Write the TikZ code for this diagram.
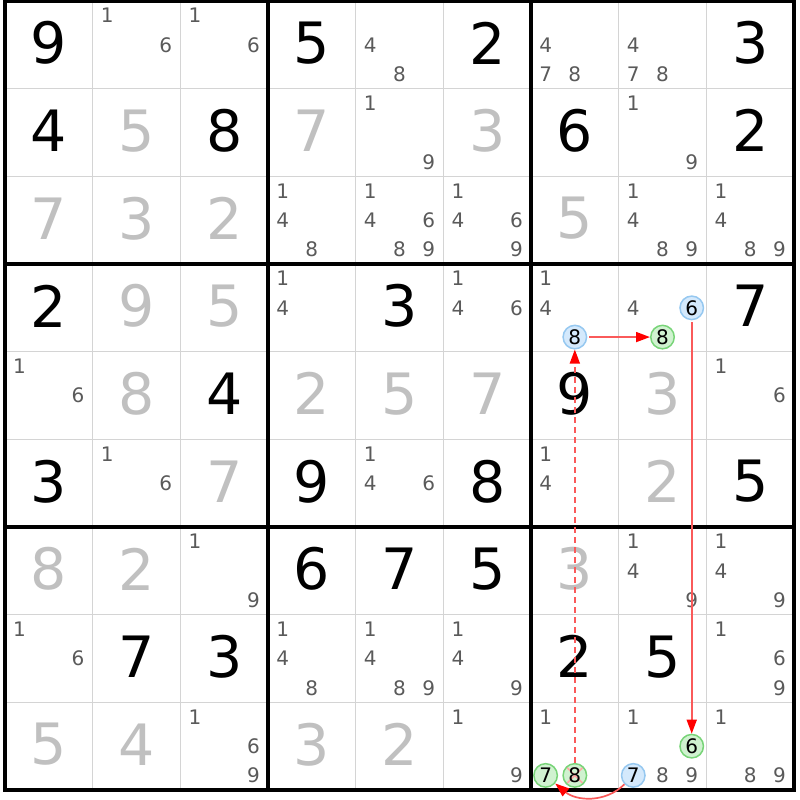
\documentclass[tikz,border=0pt]{standalone}
\usepackage{fontspec}
\setmainfont{DejaVu Sans}
\usetikzlibrary{arrows.meta}
\definecolor{candc}{RGB}{90,90,90}
\definecolor{givc}{RGB}{192,192,192}
\definecolor{thinc}{RGB}{212,212,212}
\definecolor{bluef}{RGB}{212,233,252}
\definecolor{blued}{RGB}{150,200,240}
\definecolor{greenf}{RGB}{208,242,208}
\definecolor{greend}{RGB}{120,212,120}
\definecolor{linkc}{RGB}{250,90,90}
\begin{document}
\begin{tikzpicture}[x=1pt,y=-1pt,
  big/.style={inner sep=0pt, font=\fontsize{57}{57}\selectfont},
  cand/.style={inner sep=0pt, font=\fontsize{20}{20}\selectfont, text=candc},
  cbase/.style={circle, line width=1.5pt, minimum size=23.5pt, inner sep=0pt, font=\fontsize{20}{20}\selectfont, text=black},
  cblue/.style={cbase, draw=blued, fill=bluef},
  cgreen/.style={cbase, draw=greend, fill=greenf},
  thinline/.style={draw=thinc, line width=1.6pt},
  thickline/.style={draw=black, line width=3.2pt},
  link/.style={draw=linkc, line width=1.7pt, -{Triangle[length=14pt,width=10pt,color=red]}}
]
\useasboundingbox (0,0) rectangle (800,800);
% thin grid
\foreach \i in {0,...,9} {
  \draw[thinline] ({5+\i*87.667},1) -- ({5+\i*87.667},790);
  \draw[thinline] (5,{1+\i*87.667}) -- (794,{1+\i*87.667});
}
% thick grid
\foreach \i in {3,6} {
  \draw[thickline] ({5+\i*87.667},1) -- ({5+\i*87.667},790);
  \draw[thickline] (5,{1+\i*87.667}) -- (794,{1+\i*87.667});
}
\draw[thickline] (5,1) rectangle (794,790);
% big digits
\foreach \r/\c/\d/\t in {
 0/0/9/black, 0/3/5/black, 0/5/2/black, 0/8/3/black,
 1/0/4/black, 1/1/5/givc, 1/2/8/black, 1/3/7/givc, 1/5/3/givc, 1/6/6/black, 1/8/2/black,
 2/0/7/givc, 2/1/3/givc, 2/2/2/givc, 2/6/5/givc,
 3/0/2/black, 3/1/9/givc, 3/2/5/givc, 3/4/3/black, 3/8/7/black,
 4/1/8/givc, 4/2/4/black, 4/3/2/givc, 4/4/5/givc, 4/5/7/givc, 4/6/9/black, 4/7/3/givc,
 5/0/3/black, 5/2/7/givc, 5/3/9/black, 5/5/8/black, 5/7/2/givc, 5/8/5/black,
 6/0/8/givc, 6/1/2/givc, 6/3/6/black, 6/4/7/black, 6/5/5/black, 6/6/3/givc,
 7/1/7/black, 7/2/3/black, 7/6/2/black, 7/7/5/black,
 8/0/5/givc, 8/1/4/givc, 8/3/3/givc, 8/4/2/givc} {
  \node[big, text=\t] (g\r\c) at ({5+\c*87.667+43.833},{1+\r*87.667+42}) {\d};
}
% candidates
\foreach \r/\c/\L in {
 0/1/{1,6}, 0/2/{1,6}, 0/4/{4,8}, 0/6/{4,7,8}, 0/7/{4,7,8},
 1/4/{1,9}, 1/7/{1,9},
 2/3/{1,4,8}, 2/4/{1,4,6,8,9}, 2/5/{1,4,6,9}, 2/7/{1,4,8,9}, 2/8/{1,4,8,9},
 3/3/{1,4}, 3/5/{1,4,6}, 3/6/{1,4}, 3/7/{4},
 4/0/{1,6}, 4/8/{1,6},
 5/1/{1,6}, 5/4/{1,4,6}, 5/6/{1,4},
 6/2/{1,9}, 6/7/{1,4,9}, 6/8/{1,4,9},
 7/0/{1,6}, 7/3/{1,4,8}, 7/4/{1,4,8,9}, 7/5/{1,4,9}, 7/8/{1,6,9},
 8/2/{1,6,9}, 8/5/{1,9}, 8/6/{1}, 8/7/{1,8,9}, 8/8/{1,8,9}} {
  \foreach \d in \L {
    \pgfmathtruncatemacro\kx{mod(\d-1,3)}
    \pgfmathtruncatemacro\ky{div(\d-1,3)}
    \node[cand] (k\r\c\d) at ({5+\c*87.667+(2*\kx+1)*14.611},{1+\r*87.667+(2*\ky+1)*14.611}) {\d};
  }
}
% highlighted candidates
\node[cblue] (k368) at (574.83,337.06) {8};
\node[cblue] (k376) at (691.72,307.83) {6};
\node[cgreen] (k378) at (662.50,337.06) {8};
\node[cgreen] (k867) at (545.61,775.39) {7};
\node[cgreen, path picture={
   \draw[red!35, line width=1.6pt] ([shift={(4pt,-4pt)}]path picture bounding box.north west) -- ([shift={(-4pt,4pt)}]path picture bounding box.south east);
   \draw[red!35, line width=1.6pt] ([shift={(-4pt,-4pt)}]path picture bounding box.north east) -- ([shift={(4pt,4pt)}]path picture bounding box.south west);
 }] (k868) at (574.83,775.39) {8};
\node[cgreen] (k876) at (691.72,746.17) {6};
\node[cblue] (k877) at (633.28,775.39) {7};
% links
\draw[link, shorten <=2pt] (k368) -- (k378);
\draw[link, shorten <=2pt] (k376) -- (k876);
\draw[link, dash pattern=on 6pt off 4pt] (k868) -- (k368);
\draw[link] (k877) to[out=-135,in=-40] (k867);
\end{tikzpicture}
\end{document}
